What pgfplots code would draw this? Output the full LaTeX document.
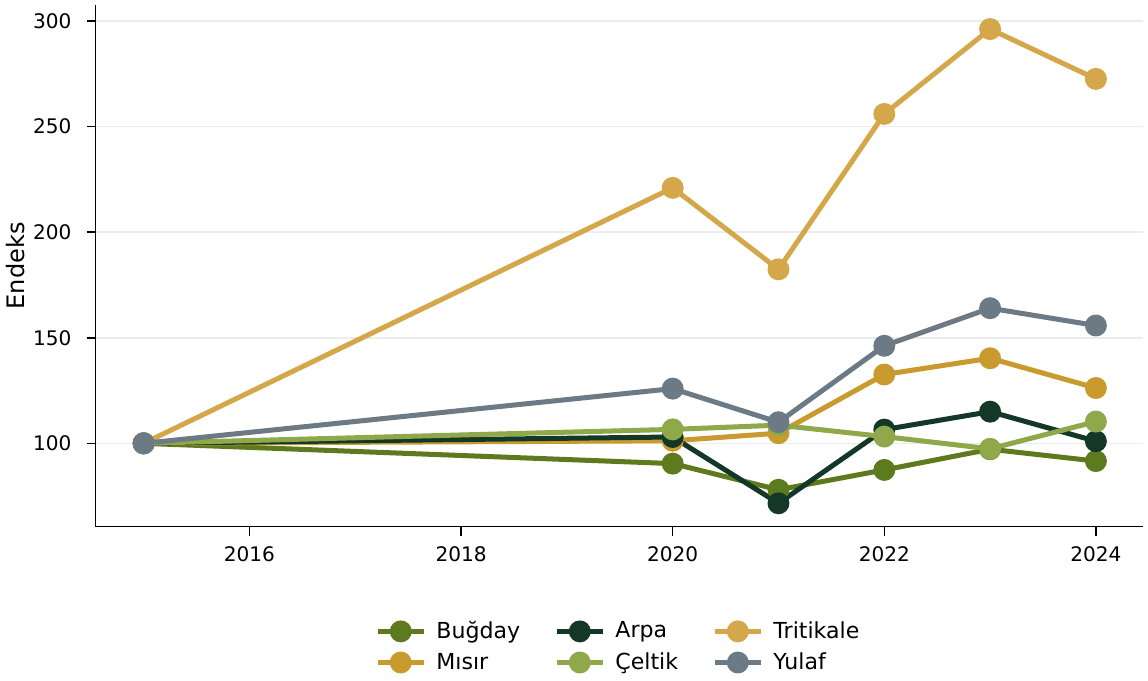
\documentclass[border=0pt]{standalone}
\usepackage{fontspec}
\setmainfont{DejaVu Sans}
\usepackage{pgfplots}
\pgfplotsset{compat=1.18}

\definecolor{bugday}{RGB}{94,122,30}
\definecolor{arpa}{RGB}{20,56,40}
\definecolor{tritikale}{RGB}{212,168,74}
\definecolor{misir}{RGB}{201,154,46}
\definecolor{celtik}{RGB}{143,168,74}
\definecolor{yulaf}{RGB}{108,122,134}

\pgfplotsset{
  serie/.style={color=#1, line width=2.5pt, mark=*, mark size=4.2pt, mark options={solid, fill=#1, draw=#1}},
}

\begin{document}
\begin{tikzpicture}
\begin{axis}[
    width=522pt, height=260pt, scale only axis,
    xmin=2014.545, xmax=2024.445,
    ymin=60.5, ymax=307.6,
    axis x line*=bottom, axis y line*=left,
    axis line style={line width=0.75pt},
    xtick={2016,2018,2020,2022,2024},
    ytick={100,150,200,250,300},
    x tick label style={/pgf/number format/1000 sep={}, yshift=-2pt},
    y tick label style={xshift=-4pt},
    /pgf/number format/assume math mode=true,
    tick style={line width=0.75pt, black},
    tick align=outside, major tick length=4.5pt,
    tick label style={font=\fontsize{10}{12}\selectfont},
    ymajorgrids, grid style={line width=0.8pt, gray!15},
    ylabel={Endeks}, ylabel style={font=\fontsize{12}{14}\selectfont, yshift=-3pt},
    legend columns=3,
    legend style={draw=none, fill=none, at={(0.5,-0.165)}, anchor=north,
      font=\fontsize{11}{13}\selectfont, row sep=1.5pt,
      /tikz/every odd column/.append style={column sep=3pt},
      /tikz/every even column/.append style={column sep=15pt}},
    legend cell align=left,
    legend image code/.code={
      \draw[#1, mark repeat=2, mark phase=2] plot coordinates {(0pt,0pt) (11.5pt,0pt) (23pt,0pt)};
    },
]
\addplot[serie=bugday, forget plot] coordinates {
  (2015,100) (2020,90.4) (2021,78.0) (2022,87.4) (2023,97.2) (2024,91.6)
};
\addplot[serie=misir, forget plot] coordinates {
  (2015,100) (2020,101.2) (2021,104.8) (2022,132.6) (2023,140.3) (2024,126.2)
};
\addplot[serie=arpa, forget plot] coordinates {
  (2015,100) (2020,103.0) (2021,71.6) (2022,106.5) (2023,115.0) (2024,101.0)
};
\addplot[serie=celtik, forget plot] coordinates {
  (2015,100) (2020,106.6) (2021,108.6) (2022,103.2) (2023,97.4) (2024,110.3)
};
\addplot[serie=tritikale, forget plot] coordinates {
  (2015,100) (2020,221.0) (2021,182.4) (2022,256.0) (2023,296.2) (2024,272.6)
};
\addplot[serie=yulaf, forget plot] coordinates {
  (2015,100) (2020,125.9) (2021,110.0) (2022,146.2) (2023,164.0) (2024,155.8)
};
\addlegendimage{serie=bugday}\addlegendentry{Buğday}
\addlegendimage{serie=arpa}\addlegendentry{Arpa}
\addlegendimage{serie=tritikale}\addlegendentry{Tritikale}
\addlegendimage{serie=misir}\addlegendentry{Mısır}
\addlegendimage{serie=celtik}\addlegendentry{Çeltik}
\addlegendimage{serie=yulaf}\addlegendentry{Yulaf}
\end{axis}
\path ([yshift=2.5pt]current axis.north west) ([xshift=2.5pt]current axis.north east);
\end{tikzpicture}
\end{document}
